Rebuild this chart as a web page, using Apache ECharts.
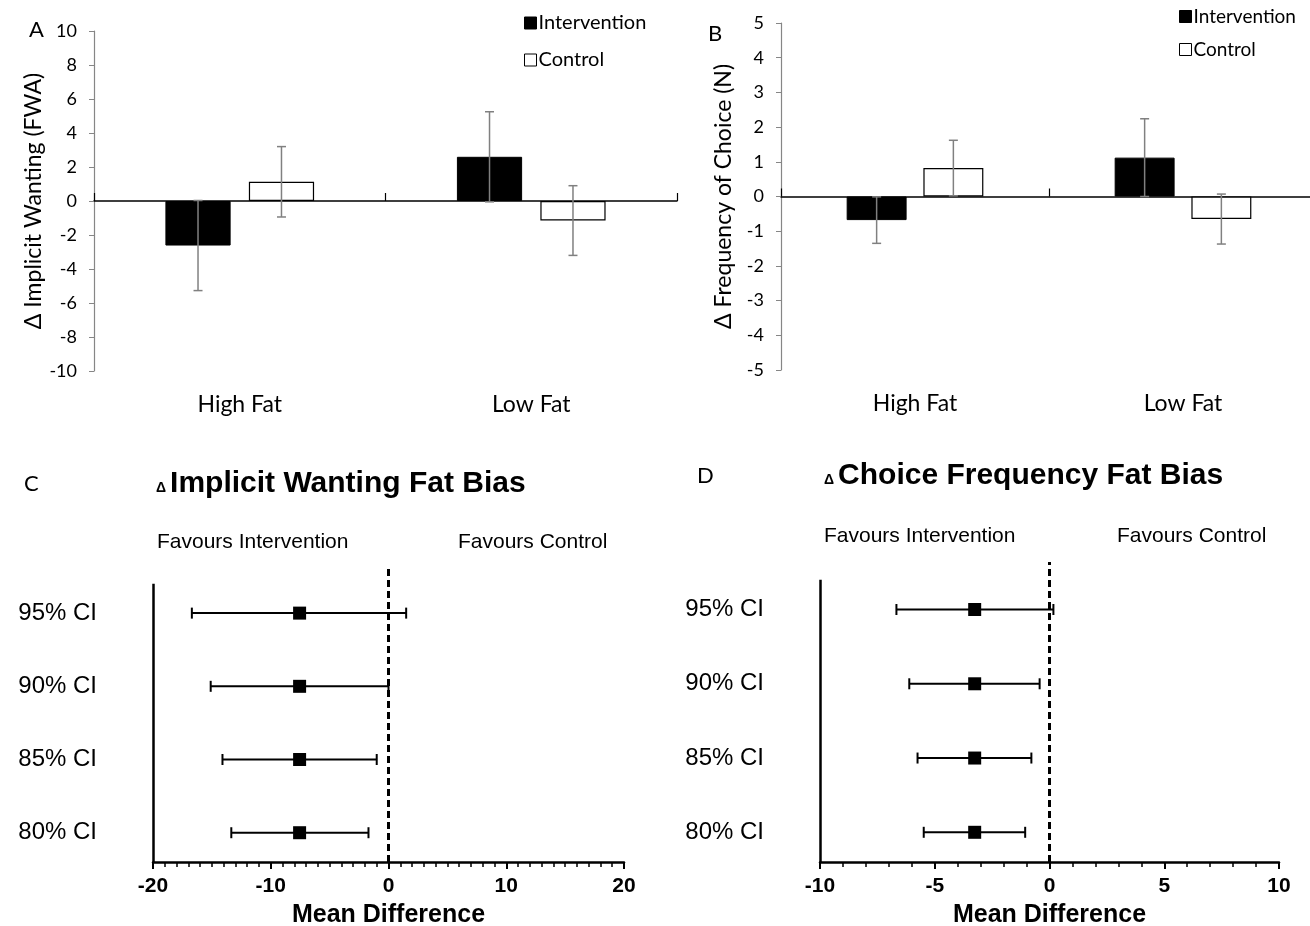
<!DOCTYPE html>
<html>
<head>
<meta charset="utf-8">
<script src="https://cdn.jsdelivr.net/npm/echarts@6/dist/echarts.min.js"></script>
<style>html,body{margin:0;padding:0;background:#fff}#c{width:1310px;height:926px}</style>
</head>
<body>
<div id="c"></div>
<script>
// ---------- DATA ----------
const categories = ['High Fat', 'Low Fat'];
const seriesNames = ['Intervention', 'Control'];
// Panel A: change in implicit wanting (FWA)
const wantingIntervention = [-2.62, 2.6];
const wantingInterventionErr = [2.65, 2.65];
const wantingControl = [1.13, -1.15];
const wantingControlErr = [2.07, 2.05];
// Panel B: change in frequency of choice (N)
const choiceIntervention = [-0.68, 1.12];
const choiceInterventionErr = [0.67, 1.12];
const choiceControl = [0.82, -0.65];
const choiceControlErr = [0.8, 0.72];
// Panels C & D: confidence intervals (bottom to top)
const ciLabels = ['80% CI', '85% CI', '90% CI', '95% CI'];
const wantBiasMean = [-7.55, -7.55, -7.55, -7.55];
const wantBiasLow = [-13.35, -14.1, -15.1, -16.7];
const wantBiasHigh = [-1.7, -1.0, 0.0, 1.5];
const choiceBiasMean = [-3.26, -3.26, -3.26, -3.26];
const choiceBiasLow = [-5.48, -5.75, -6.11, -6.67];
const choiceBiasHigh = [-1.06, -0.79, -0.43, 0.17];

// ---------- HELPERS ----------
const calibri = 'Lato, "Open Sans", sans-serif';
const arial = '"Liberation Sans", Arial, sans-serif';
const GAP = 0.28, CATGAP = 0.49;

function barErr(sign) {
  return function (params, api) {
    const i = api.value(0), m = api.value(1), e = api.value(2);
    const W = api.size([1, 0])[0];
    const bw = W * (1 - CATGAP) / (2 + GAP);
    const x = api.coord([i, m])[0] + sign * bw * (1 + GAP) / 2;
    const y1 = api.coord([i, m + e])[1], y2 = api.coord([i, m - e])[1];
    const cap = 4.5;
    const st = { stroke: '#808080', lineWidth: 1.5 };
    return { type: 'group', children: [
      { type: 'line', shape: { x1: x, y1: y1, x2: x, y2: y2 }, style: st },
      { type: 'line', shape: { x1: x - cap, y1: y1, x2: x + cap, y2: y1 }, style: st },
      { type: 'line', shape: { x1: x - cap, y1: y2, x2: x + cap, y2: y2 }, style: st }
    ]};
  };
}
function ciRender(params, api) {
  const lo = api.coord([api.value(0), api.value(2)]);
  const hi = api.coord([api.value(1), api.value(2)]);
  const cap = 5.5;
  const st = { stroke: '#000', lineWidth: 2 };
  return { type: 'group', children: [
    { type: 'line', shape: { x1: lo[0], y1: lo[1], x2: hi[0], y2: hi[1] }, style: st },
    { type: 'line', shape: { x1: lo[0], y1: lo[1] - cap, x2: lo[0], y2: lo[1] + cap }, style: st },
    { type: 'line', shape: { x1: hi[0], y1: hi[1] - cap, x2: hi[0], y2: hi[1] + cap }, style: st }
  ]};
}
const rows = ciLabels.map((_, i) => i + 1);

function barPanel(g, xi, yi, intr, intrErr, ctrl, ctrlErr) {
  return [
    { name: seriesNames[0], type: 'bar', xAxisIndex: xi, yAxisIndex: yi, data: intr,
      barGap: (GAP * 100) + '%', barCategoryGap: (CATGAP * 100) + '%',
      itemStyle: { color: '#000', borderColor: '#000', borderWidth: 1 }, silent: true },
    { name: seriesNames[1], type: 'bar', xAxisIndex: xi, yAxisIndex: yi, data: ctrl,
      barGap: (GAP * 100) + '%', barCategoryGap: (CATGAP * 100) + '%',
      itemStyle: { color: '#fff', borderColor: '#000', borderWidth: 1.2 }, silent: true },
    { type: 'custom', xAxisIndex: xi, yAxisIndex: yi, z: 5, silent: true,
      renderItem: barErr(-1), data: intr.map((v, i) => [i, v, intrErr[i]]) },
    { type: 'custom', xAxisIndex: xi, yAxisIndex: yi, z: 5, silent: true,
      renderItem: barErr(1), data: ctrl.map((v, i) => [i, v, ctrlErr[i]]) }
  ];
}
function forestPanel(xi, yi, mean, lo, hi, xmin, ymin, ytop) {
  return [
    { type: 'custom', xAxisIndex: xi, yAxisIndex: yi, silent: true, z: 4,
      renderItem: ciRender, data: rows.map((r, i) => [lo[i], hi[i], r]) },
    { type: 'scatter', xAxisIndex: xi, yAxisIndex: yi, silent: true, z: 6,
      symbol: 'rect', symbolSize: 13, itemStyle: { color: '#000', opacity: 1 },
      data: rows.map((r, i) => [mean[i], r]),
      markLine: { silent: true, symbol: 'none', label: { show: false }, animation: false,
        data: [
          { xAxis: 0, lineStyle: { color: '#000', width: 3, type: [7, 4] } },
          [ { coord: [xmin, ymin], lineStyle: { color: '#000', width: 2.5, type: 'solid' } },
            { coord: [xmin, ytop] } ]
        ] } }
  ];
}

function catAxes(g) {
  return [
    { type: 'category', gridIndex: g, data: categories, position: 'top',
      axisLine: { onZero: true, lineStyle: { color: '#000', width: 1.5 } },
      axisTick: { show: true, length: 8, lineStyle: { color: '#000', width: 1.2 } },
      axisLabel: { show: false }, splitLine: { show: false } },
    { type: 'category', gridIndex: g, data: categories, position: 'bottom',
      axisLine: { show: false, onZero: false }, axisTick: { show: false },
      axisLabel: { show: true, margin: 22, fontFamily: calibri, fontSize: 23, color: '#000' },
      splitLine: { show: false } }
  ];
}
function valAxis(g, min, max, interval, name, gap) {
  return { type: 'value', gridIndex: g, min: min, max: max, interval: interval,
    name: name, nameLocation: 'middle', nameGap: gap,
    nameTextStyle: { fontFamily: calibri, fontSize: 23, color: '#000', padding: [0, 0, 0, 0] },
    axisLine: { show: true, onZero: false, lineStyle: { color: '#868686', width: 1.2 } },
    axisTick: { show: true, length: 5, lineStyle: { color: '#868686' } },
    axisLabel: { fontFamily: calibri, fontSize: 18, color: '#000', margin: 17 },
    splitLine: { show: false } };
}
function forestX(g, min, max, interval, split) {
  return { type: 'value', gridIndex: g, min: min, max: max, interval: interval,
    name: 'Mean Difference', nameLocation: 'middle', nameGap: 41,
    nameTextStyle: { fontFamily: arial, fontWeight: 'bold', fontSize: 25, color: '#000' },
    axisLine: { show: true, onZero: false, lineStyle: { color: '#000', width: 2.5 } },
    axisTick: { show: true, length: 7, lineStyle: { color: '#000', width: 2 } },
    minorTick: { show: true, splitNumber: split, length: 5, lineStyle: { color: '#000', width: 1.5 } },
    axisLabel: { fontFamily: arial, fontWeight: 'bold', fontSize: 21, color: '#000', margin: 14 },
    splitLine: { show: false }, minorSplitLine: { show: false } };
}
function forestY(g, max) {
  return { type: 'value', gridIndex: g, min: 0.6, max: max,
    axisLine: { show: false }, axisTick: { show: false }, splitLine: { show: false },
    axisLabel: { customValues: rows, formatter: v => ciLabels[Math.round(v) - 1],
      fontFamily: arial, fontSize: 24, color: '#000', margin: 56 } };
}
function txt(text, left, top, size, font, bold) {
  return { text: text, left: left, top: top, padding: 0,
    textStyle: { fontFamily: font, fontSize: size, fontWeight: bold ? 'bold' : 'normal', color: '#000' } };
}

const option = {
  animation: false,
  backgroundColor: '#fff',
  title: [
    txt('A', 29, 19, 22, calibri),
    txt('B', 708, 23, 22, calibri),
    txt('C', 24, 473, 22, calibri),
    txt('D', 697, 465, 22, calibri),
    { left: 156, top: 469, padding: 0, text: '{d|Δ}{t|Implicit Wanting Fat Bias}',
      textStyle: { rich: {
        d: { fontFamily: arial, fontSize: 14, color: '#000', padding: [8, 4, 0, 0] },
        t: { fontFamily: arial, fontSize: 30, fontWeight: 'bold', color: '#000' } } } },
    { left: 824, top: 461, padding: 0, text: '{d|Δ}{t|Choice Frequency Fat Bias}',
      textStyle: { rich: {
        d: { fontFamily: arial, fontSize: 14, color: '#000', padding: [8, 4, 0, 0] },
        t: { fontFamily: arial, fontSize: 30, fontWeight: 'bold', color: '#000' } } } },
    txt('Favours Intervention', 157, 532, 21, arial),
    txt('Favours Control', 458, 532, 21, arial),
    txt('Favours Intervention', 824, 526, 21, arial),
    txt('Favours Control', 1117, 526, 21, arial)
  ],
  legend: [
    { left: 524, top: 13, orient: 'vertical', itemWidth: 12, itemHeight: 12, itemGap: 17,
      selectedMode: false, icon: 'rect', data: seriesNames, padding: 0, itemStyle: { borderColor: '#000', borderWidth: 1 },
      textStyle: { fontFamily: calibri, fontSize: 20, color: '#000', padding: [0, 0, 0, -3] } },
    { left: 1179, top: 7, orient: 'vertical', itemWidth: 12, itemHeight: 12, itemGap: 14,
      selectedMode: false, icon: 'rect', data: seriesNames, padding: 0, itemStyle: { borderColor: '#000', borderWidth: 1 },
      textStyle: { fontFamily: calibri, fontSize: 19, color: '#000', padding: [0, 0, 0, -3] } }
  ],
  grid: [
    { left: 94, top: 31, width: 583, height: 340, outerBoundsMode: 'none' },
    { left: 781, top: 23, width: 536, height: 347, outerBoundsMode: 'none' },
    { left: 153, top: 567, width: 471, height: 295, outerBoundsMode: 'none' },
    { left: 820, top: 562, width: 459, height: 300, outerBoundsMode: 'none' }
  ],
  xAxis: [].concat(catAxes(0), catAxes(1), [forestX(2, -20, 20, 10, 10), forestX(3, -10, 10, 5, 5)]),
  yAxis: [
    valAxis(0, -10, 10, 2, 'Δ Implicit Wanting (FWA)', 48),
    valAxis(1, -5, 5, 1, 'Δ Frequency of Choice (N)', 46),
    forestY(2, 4.63),
    forestY(3, 4.64)
  ],
  series: [].concat(
    barPanel(0, 0, 0, wantingIntervention, wantingInterventionErr, wantingControl, wantingControlErr),
    barPanel(1, 2, 1, choiceIntervention, choiceInterventionErr, choiceControl, choiceControlErr),
    forestPanel(4, 2, wantBiasMean, wantBiasLow, wantBiasHigh, -20, 0.6, 4.4),
    forestPanel(5, 3, choiceBiasMean, choiceBiasLow, choiceBiasHigh, -10, 0.6, 4.4)
  )
};
const chart = echarts.init(document.getElementById('c'), null, { renderer: 'canvas' });
chart.setOption(option);
</script>
</body>
</html>
